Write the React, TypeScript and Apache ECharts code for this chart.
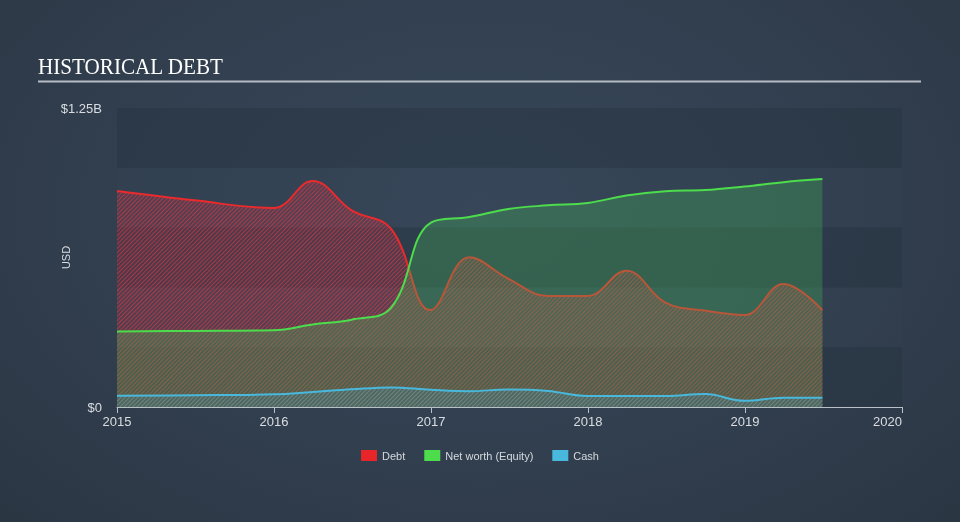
import React, { useEffect, useRef } from "react";
import * as echarts from "echarts";

// ---- data (values in $ billions) ----
const debtDates = [
  "2015-01-01", "2015-06-30", "2015-12-31", "2016-03-31", "2016-06-30",
  "2016-09-30", "2016-12-31", "2017-03-31", "2017-06-30", "2017-09-30", "2017-12-31",
  "2018-03-31", "2018-06-30", "2018-09-30", "2018-12-31", "2019-03-31", "2019-06-30",
];
const debtValues = [
  0.903, 0.864, 0.832, 0.945, 0.822,
  0.745, 0.405, 0.626, 0.536, 0.464, 0.464,
  0.57, 0.436, 0.403, 0.385, 0.514, 0.405,
];

const equityDates = [
  "2015-01-01", "2015-06-30", "2015-12-31", "2016-03-31", "2016-06-30", "2016-09-30",
  "2016-12-31", "2017-03-31", "2017-06-30", "2017-09-30", "2017-12-31", "2018-03-31",
  "2018-06-30", "2018-09-30", "2018-12-31", "2019-03-31", "2019-06-30",
];
const equityValues = [
  0.316, 0.318, 0.321, 0.345, 0.365, 0.415,
  0.77, 0.794, 0.828, 0.843, 0.853, 0.884,
  0.902, 0.907, 0.922, 0.94, 0.953,
];

const cashDates = [
  "2015-01-01", "2015-06-30", "2015-12-31", "2016-03-31", "2016-06-30", "2016-09-30",
  "2016-12-31", "2017-03-31", "2017-06-30", "2017-09-30", "2017-12-31", "2018-03-31",
  "2018-06-30", "2018-09-30", "2018-12-31", "2019-03-31", "2019-06-30",
];
const cashValues = [
  0.047, 0.049, 0.053, 0.063, 0.074, 0.082,
  0.072, 0.066, 0.073, 0.067, 0.046, 0.046,
  0.046, 0.054, 0.026, 0.039, 0.039,
];

const yearTicks = [2015, 2016, 2017, 2018, 2019, 2020];
const yMax = 1.25;

function toYear(d: string): number {
  const [y, m, day] = d.split("-").map(Number);
  const t = Date.UTC(y, m - 1, day);
  const s = Date.UTC(y, 0, 1);
  const e = Date.UTC(y + 1, 0, 1);
  return y + (t - s) / (e - s);
}

function pairs(dates: string[], vals: number[]) {
  return dates.map((d, i) => [toYear(d), vals[i]]);
}

export default function App() {
  const ref = useRef<HTMLDivElement>(null);

  useEffect(() => {
    if (!ref.current) return;
    const chart = echarts.init(ref.current, null, { renderer: "svg" });
    const labelColor = "#d9dde2";
    const font = "Arial, 'Liberation Sans', sans-serif";
    const smooth = 0.4;

    chart.setOption({
      animation: false,
      backgroundColor: "transparent",
      textStyle: { fontFamily: font },
      graphic: [
        {
          type: "text",
          left: 38,
          top: 55,
          style: {
            text: "HISTORICAL DEBT",
            fill: "#ffffff",
            font: "23px 'Liberation Serif', 'DejaVu Serif', serif",
          },
          scaleX: 0.92,
        },
        {
          type: "line",
          shape: { x1: 38, y1: 81.5, x2: 921, y2: 81.5 },
          style: { stroke: "#b6bcc4", lineWidth: 2 },
        },
      ],
      legend: {
        left: "center",
        top: 445,
        icon: "rect",
        itemWidth: 16,
        itemHeight: 11,
        itemGap: 19,
        textStyle: { color: "#d5d9de", fontSize: 11, fontFamily: font },
        itemStyle: { decal: "none" },
        data: ["Debt", "Net worth (Equity)", "Cash"],
      },
      grid: { left: 117, right: 58, top: 108, bottom: 115 },
      xAxis: {
        type: "value",
        min: yearTicks[0],
        max: yearTicks[yearTicks.length - 1],
        interval: 1,
        axisLine: { lineStyle: { color: "#b8c0c8", width: 1 } },
        axisTick: { show: true, length: 6, lineStyle: { color: "#b8c0c8" } },
        splitLine: { show: false },
        axisLabel: {
          color: labelColor,
          fontSize: 13,
          margin: 8,
          alignMaxLabel: "right",
          formatter: (v: number) => String(v),
        },
      },
      yAxis: {
        type: "value",
        min: 0,
        max: yMax,
        interval: 0.25,
        name: "USD",
        nameLocation: "middle",
        nameGap: 46,
        nameMoveOverlap: false,
        nameTextStyle: { color: labelColor, fontSize: 11 },
        axisLine: { show: false },
        axisTick: { show: false },
        splitLine: { show: false },
        splitArea: {
          show: true,
          areaStyle: { color: ["rgba(38,50,64,0.45)", "rgba(60,76,94,0.12)"] },
        },
        axisLabel: {
          color: labelColor,
          fontSize: 13,
          margin: 15,
          formatter: (v: number) => (v === 0 ? "$0" : v === yMax ? "$1.25B" : ""),
        },
      },
      series: [
        {
          name: "Debt",
          type: "line",
          data: pairs(debtDates, debtValues),
          smooth,
          showSymbol: false,
          color: "#e8262a",
          lineStyle: { color: "#ea2a2c", width: 2 },
          itemStyle: {
            color: "#e8262a",
            decal: {
              symbol: "rect",
              symbolSize: 1,
              dashArrayX: [1, 0],
              dashArrayY: [1, 2],
              rotation: -Math.PI / 4,
              color: "rgba(230,60,70,0.55)",
            },
          },
          areaStyle: { color: "rgba(190,50,70,0.25)", opacity: 1 },
          z: 2,
        },
        {
          name: "Net worth (Equity)",
          type: "line",
          data: pairs(equityDates, equityValues),
          smooth,
          showSymbol: false,
          color: "#4cdc4c",
          lineStyle: { color: "#4cdc4c", width: 2 },
          itemStyle: { color: "#4cdc4c" },
          areaStyle: { color: "rgba(70,190,90,0.3)", opacity: 1 },
          z: 3,
        },
        {
          name: "Cash",
          type: "line",
          data: pairs(cashDates, cashValues),
          smooth,
          showSymbol: false,
          color: "#48b8dc",
          lineStyle: { color: "#48b8dc", width: 2 },
          itemStyle: {
            color: "#48b8dc",
            decal: {
              symbol: "rect",
              symbolSize: 1,
              dashArrayX: [1, 0],
              dashArrayY: [1, 2],
              rotation: -Math.PI / 4,
              color: "rgba(90,170,200,0.35)",
            },
          },
          areaStyle: { color: "rgba(70,160,200,0.15)", opacity: 1 },
          z: 4,
        },
      ],
    });
    return () => chart.dispose();
  }, []);

  return (
    <div
      style={{
        position: "fixed",
        left: 0,
        top: 0,
        width: 960,
        height: 522,
        background: "radial-gradient(ellipse at 50% 40%, #374759 0%, #313e4e 60%, #2b3643 100%)",
      }}
    >
      <div ref={ref} style={{ width: 960, height: 522 }} />
    </div>
  );
}
